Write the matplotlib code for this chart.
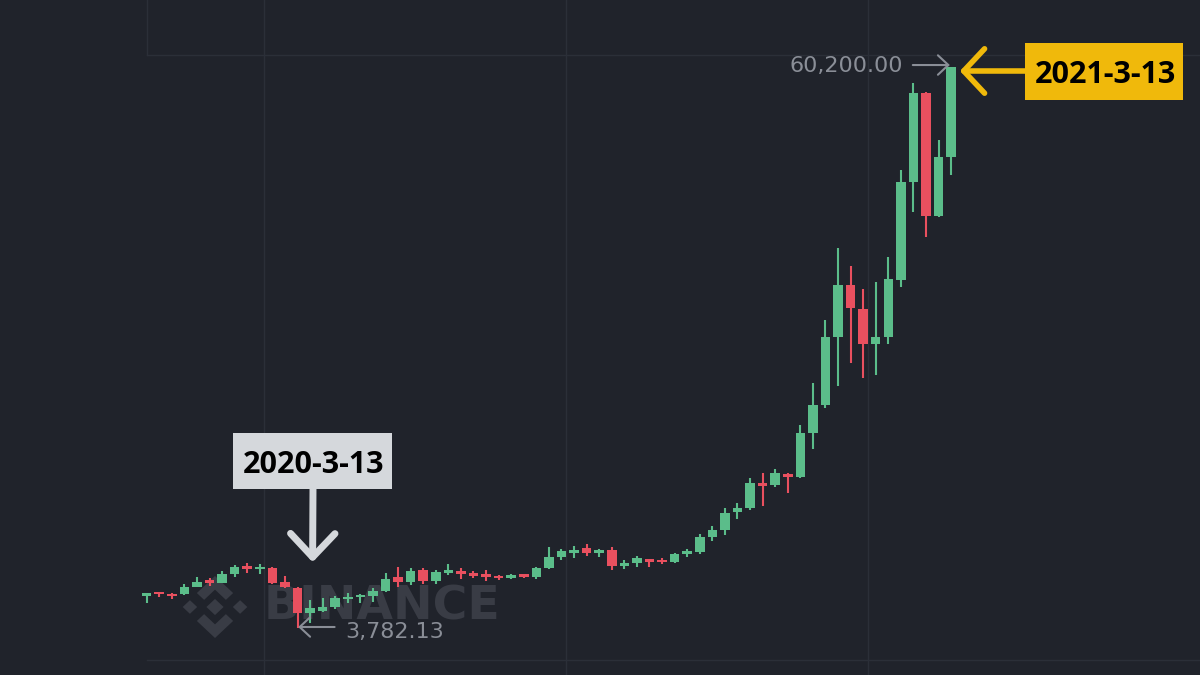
import matplotlib.pyplot as plt
from matplotlib.patches import Polygon, Rectangle

# weekly BTC/USDT candles, week of 2019-12-16 .. week of 2021-03-08
opens = [7000, 7300, 7200, 7170, 7936, 8610, 8327, 9213, 10018, 9686,
         9789, 8380, 7775, 5260, 5522, 5900, 6668, 6850, 7000, 7533,
         8931, 8440, 9615, 8539, 9300, 9515, 9283, 9250, 9011, 8830,
         9180, 8941, 9790, 10900, 11330, 11796, 11360, 11630, 10000, 10300,
         10690, 10620, 10450, 11200, 11400, 12904, 13638, 15470, 15820, 18395,
         18164, 19270, 19000, 23363, 26209, 33018, 38278, 35834, 32344, 33018,
         38800, 48666, 57617, 45217, 51120]
highs = [7302, 7420, 7260, 8200, 8941, 8780, 9484, 10118, 10286, 10216,
         9950, 9011, 7900, 6598, 6769, 7000, 7272, 7171, 7775, 9283,
         9887, 9790, 9790, 9615, 10216, 9790, 9545, 9615, 9128, 9213,
         9213, 9950, 11970, 11770, 12000, 12243, 11700, 11970, 10620, 11053,
         10720, 10870, 11355, 11697, 13236, 14040, 15820, 16323, 18837, 19400,
         19742, 19420, 24198, 28392, 34758, 41968, 40188, 37845, 38609, 41063,
         49843, 58623, 57717, 52860, 60200.00]
lows = [6266, 6930, 6730, 7070, 7870, 8040, 8278, 8940, 9340, 9213,
        8177, 7830, 3782.13, 4255, 5421, 5688, 6326, 6266, 6427, 7432,
        7935, 8110, 8240, 8240, 9128, 8697, 8780, 8540, 8610, 8740,
        8820, 8697, 9686, 10621, 10840, 11043, 10960, 9615, 9720, 9880,
        9887, 10170, 10290, 10953, 11224, 12562, 13135, 14714, 15649, 16052,
        17932, 17409, 18837, 21754, 25877, 28120, 30403, 28894, 29226, 32294,
        38046, 45649, 43135, 45146, 49340]
closes = [7252, 7170, 7000, 7936, 8440, 8278, 9213, 9887, 9686, 9950,
          8278, 7885, 5260, 5763, 5924, 6769, 6930, 6960, 7533, 8680,
          8440, 9545, 8539, 9384, 9615, 9213, 9011, 8941, 8780, 9128,
          8940, 9790, 10962, 11530, 11630, 11355, 11630, 10018, 10300, 10792,
          10450, 10390, 11224, 11530, 12904, 13638, 15378, 15820, 18335, 18063,
          19340, 18998, 23363, 26209, 33018, 38278, 35934, 32344, 33078, 38851,
          48666, 57617, 45217, 51120, 60200]

BG = '#20232b'
GRID = '#2b2f38'
GREEN = '#5bbd8a'
RED = '#e9505f'
LABEL = '#8a8e97'
MARK = '#393c45'
YELLOW = '#f0b90b'
PALE = '#d5d8dc'

W, H = 1200, 675
fig = plt.figure(figsize=(12, 6.75), dpi=100, facecolor=BG)
ax = fig.add_axes([0, 0, 1, 1])
ax.set_axis_off()
ax.set_xlim(-11.67, 83.8)
ax.set_ylim(-945, 66940)

# faint grid
for gx in [9.33, 33.36, 57.38]:
    ax.axvline(gx, color=GRID, lw=1, zorder=0)
ax.axhline(61410, xmin=147 / W, color=GRID, lw=1, zorder=0)
ax.axhline(560, xmin=147 / W, color=GRID, lw=1, zorder=0)
ax.axvline(0, ymin=1 - 55 / H, color=GRID, lw=1, zorder=0)

# watermark
ax.text(264 / W, 1 - 619 / H, 'BINANCE', transform=fig.transFigure,
        fontsize=34, fontweight='bold', color=MARK, family='DejaVu Sans',
        ha='left', va='baseline', zorder=1)
logo = fig.add_axes([182 / W, 37 / H, 66 / W, 62 / H])
logo.set_zorder(-1)
logo.set_axis_off()
logo.set_xlim(-1, 1)
logo.set_ylim(-1, 1)
shapes = [
    [(0, 0.26), (0.26, 0), (0, -0.26), (-0.26, 0)],
    [(-0.76, 0.22), (-0.54, 0), (-0.76, -0.22), (-0.98, 0)],
    [(0.76, 0.22), (0.98, 0), (0.76, -0.22), (0.54, 0)],
    [(-0.55, 0.45), (0, 1), (0.55, 0.45), (0.33, 0.23), (0, 0.56), (-0.33, 0.23)],
    [(-0.55, -0.45), (0, -1), (0.55, -0.45), (0.33, -0.23), (0, -0.56), (-0.33, -0.23)],
]
for pts in shapes:
    logo.add_patch(Polygon(pts, closed=True, fc=MARK, ec='none'))

# candles
x = list(range(len(opens)))
colors = [GREEN if c >= o else RED for o, c in zip(opens, closes)]
ax.vlines(x, lows, highs, colors=colors, lw=1.5, zorder=3)
bottoms = [min(o, c) for o, c in zip(opens, closes)]
heights = [max(abs(c - o), 220) for o, c in zip(opens, closes)]
ax.bar(x, heights, bottom=bottoms, width=0.76, color=colors, lw=0, zorder=4)

# low / high price labels
lo_i = lows.index(min(lows))
hi_i = highs.index(max(highs))
lo_val, hi_val = lows[lo_i], highs[hi_i]
small = dict(arrowstyle='->,head_length=0.75,head_width=0.7', color=LABEL,
             lw=1.5, shrinkA=0, shrinkB=0, mutation_scale=10)
ax.annotate('', xy=(lo_i + 0.05, lo_val + 100), xytext=(lo_i + 2.95, lo_val + 100),
            arrowprops=small, zorder=5)
ax.text(lo_i + 3.8, lo_val - 450, f'{lo_val:,.2f}', color=LABEL, fontsize=16,
        family='DejaVu Sans', ha='left', va='center', zorder=5)
ax.annotate('', xy=(hi_i - 0.1, hi_val + 200), xytext=(hi_i - 3.05, hi_val + 200),
            arrowprops=small, zorder=5)
ax.text(hi_i - 3.8, hi_val + 100, f'{hi_val:,.2f}', color=LABEL, fontsize=16,
        family='DejaVu Sans', ha='right', va='center', zorder=5)

# date callouts
ax.add_patch(Rectangle((233 / W, 1 - 489 / H), 159 / W, 56.3 / H,
                       transform=fig.transFigure, fc=PALE, ec='none', zorder=6))
ax.text(313.5 / W, 1 - 472.7 / H, '2020-3-13', transform=fig.transFigure,
        fontsize=22, fontweight='bold', family='Open Sans', color='black',
        ha='center', va='baseline', zorder=7)
ax.annotate('', xy=(lo_i + 1.2, 10400), xytext=(313 / W, 1 - 489 / H),
            textcoords='figure fraction',
            arrowprops=dict(arrowstyle='->,head_length=0.85,head_width=0.8',
                            color=PALE, lw=5, shrinkA=0, shrinkB=0,
                            mutation_scale=20), zorder=5)

ax.add_patch(Rectangle((1025 / W, 1 - 100 / H), 158 / W, 57.3 / H,
                       transform=fig.transFigure, fc=YELLOW, ec='none', zorder=6))
ax.text(1105.5 / W, 1 - 82.7 / H, '2021-3-13', transform=fig.transFigure,
        fontsize=22, fontweight='bold', family='Open Sans', color='black',
        ha='center', va='baseline', zorder=7)
ax.annotate('', xy=(hi_i + 0.7, hi_val - 400), xytext=(1025 / W, 1 - 71 / H),
            textcoords='figure fraction',
            arrowprops=dict(arrowstyle='->,head_length=0.75,head_width=0.8',
                            color=YELLOW, lw=4, shrinkA=0, shrinkB=0,
                            mutation_scale=20), zorder=5)

fig.savefig('out.png', dpi=100, facecolor=BG)
